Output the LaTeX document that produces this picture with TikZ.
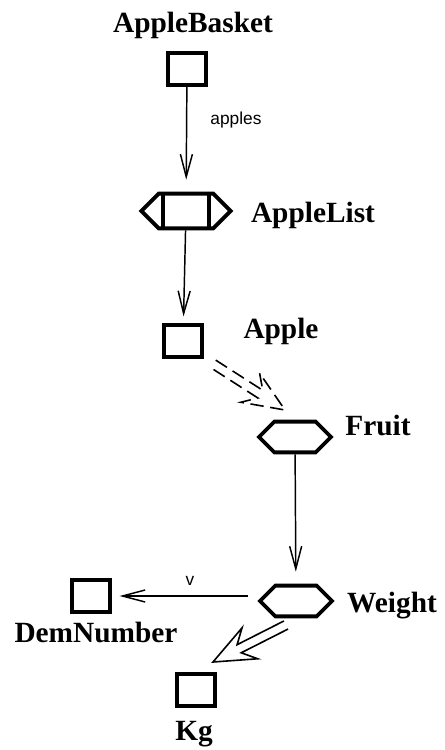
\documentclass[tikz,border=0pt]{standalone}
\usepackage{fontspec}
\setmainfont{Liberation Serif}
\setsansfont{Liberation Sans}
\usepackage{tikz}
\usetikzlibrary{arrows.meta, calc, shapes.symbols}

% hollow double arrow, drawn from #2 to the tip #3
\newcommand{\genarrow}[3][]{%
  \coordinate (#2n) at ($(#3)!22pt!(#2)$);
  \coordinate (#2w) at ($(#3)!31pt!(#2)$);
  \draw[line width=1.2pt, #1] ($(#2)!3.4pt!90:(#3)$) -- ($(#2n)!3.4pt!90:(#3)$)
    -- ($(#2w)!13pt!90:(#3)$) -- (#3) -- ($(#2w)!13pt!-90:(#3)$)
    -- ($(#2n)!3.4pt!-90:(#3)$) -- ($(#2)!3.4pt!-90:(#3)$);
}

\tikzset{
  classbox/.style={draw, line width=2.9pt, minimum width=29pt, minimum height=24pt, inner sep=0pt},
  valuebox/.style={draw, line width=2.9pt, shape=signal, signal to=west and east,
    signal pointer angle=90, minimum width=54pt, minimum height=23pt, inner sep=0pt},
  listbox/.style={valuebox, minimum width=67pt, minimum height=26pt,
    path picture={
      \draw[line width=2.9pt] ([xshift=-17pt]path picture bounding box.north) -- ([xshift=-17pt]path picture bounding box.south);
      \draw[line width=2.9pt] ([xshift=17pt]path picture bounding box.north) -- ([xshift=17pt]path picture bounding box.south);
    }},
  classname/.style={font=\fontsize{22}{26}\selectfont\bfseries, anchor=base, inner sep=0pt},
  rolename/.style={font=\sffamily\fontsize{13}{15}\selectfont, anchor=base, inner sep=0pt},
  assoc/.style={line width=1.1pt, -{Straight Barb[length=17pt,width=9pt]}}
}

\begin{document}
\begin{tikzpicture}[x=0.75pt, y=-0.75pt]
  \useasboundingbox (0,0) rectangle (445,750);

  % classes and values
  \node[classbox] (basket) at (187,69) {};
  \node[listbox] (list) at (186,211) {};
  \node[classbox] (apple) at (183,341) {};
  \node[valuebox] (fruit) at (295,437) {};
  \node[valuebox] (weight) at (296,601) {};
  \node[classbox] (dem) at (91,596) {};
  \node[classbox] (kg) at (196,690) {};

  % names
  \node[classname] (basketname) at (193,32) {AppleBasket};
  \node[classname] (listname) at (313,222) {AppleList};
  \node[classname] (applename) at (281,338) {Apple};
  \node[classname] (fruitname) at (378,435) {Fruit};
  \node[classname] (weightname) at (392,612) {Weight};
  \node[classname] (demname) at (96,642) {DemNumber};
  \node[classname] (kgname) at (194,740) {Kg};

  % associations
  \draw[assoc, shorten >=9pt] (basket) -- (list);
  \node[rolename] (apples) at (236,124) {apples};
  \draw[assoc, shorten >=5pt] (list) -- (apple);
  \draw[assoc, shorten >=9pt] (fruit) -- (weight);
  \draw[assoc, shorten <=7pt, shorten >=5.5pt] (weight.west |- dem) -- (dem);
  \node[rolename] (v) at (190,585) {v};

  % generalisation and unit
  \coordinate (isafrom) at ([shift={(9,5)}]apple.south east);
  \coordinate (isato) at ([shift={(-10,-27)}]fruit.center);
  \genarrow[dash pattern=on 10pt off 5pt]{isafrom}{isato}
  \coordinate (unitfrom) at ([shift={(-10,24)}]weight.center);
  \coordinate (unitto) at ([shift={(17,-28)}]kg.center);
  \genarrow{unitfrom}{unitto}
\end{tikzpicture}
\end{document}
